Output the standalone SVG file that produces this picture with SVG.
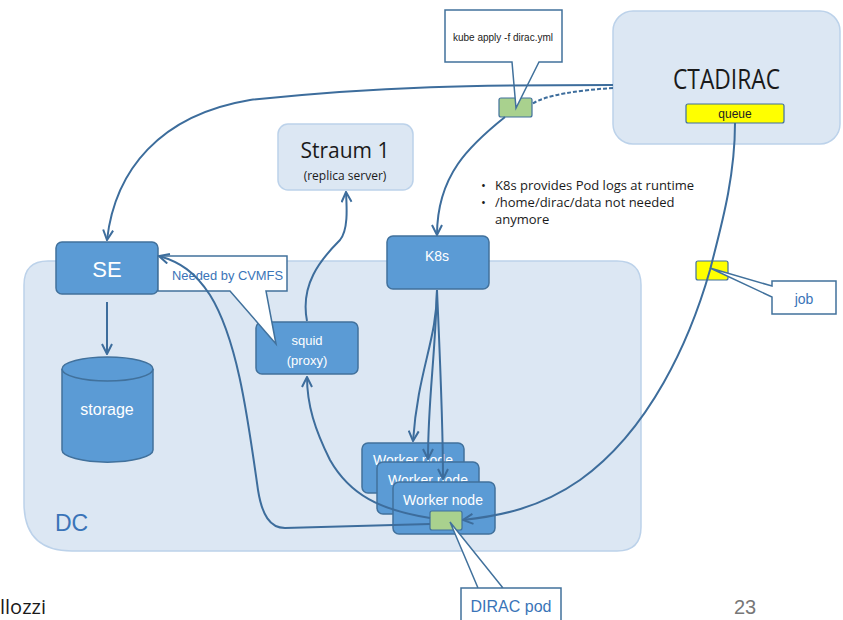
<svg xmlns="http://www.w3.org/2000/svg" width="843" height="620" viewBox="0 0 843 620">
<style>
.node{fill:#5b9bd5;stroke:#41719c;stroke-width:1.5}
.pale{fill:#dce7f3;stroke:#bcd2ea;stroke-width:1.5}
.green{fill:#a9d18e;stroke:#41719c;stroke-width:1.2}
.yellow{fill:#ffff00;stroke:#41719c;stroke-width:1.2}
.call{fill:#ffffff;stroke:#41719c;stroke-width:1.5}
.wt{font-family:"Liberation Sans",Arial,sans-serif;fill:#ffffff;text-anchor:middle}
.bt{font-family:"Liberation Sans",Arial,sans-serif;fill:#3a74b8}
.dk{font-family:"Open Sans","Noto Sans",sans-serif;fill:#1a1a1a}
.conn path{fill:none;stroke:#3d6d9c;stroke-width:2}
</style>
<defs>
<marker id="arr" viewBox="0 0 12 12" refX="11" refY="6" markerWidth="12" markerHeight="12" markerUnits="userSpaceOnUse" orient="auto">
<path d="M1,1 L11,6 L1,11" fill="none" stroke="#3d6d9c" stroke-width="2"/>
</marker>
</defs>
<rect width="843" height="620" fill="#ffffff"/>

<g id="dc">
<path class="pale" d="M24,285 Q24,261 48,261 L617,261 Q641,261 641,285 L641,527 Q641,551 617,551 L72,551 Q24,551 24,503 Z"/>
<text class="bt" x="55" y="531" font-size="23">DC</text>
</g>

<g id="ctadirac">
<rect class="pale" x="613" y="11" width="227" height="133" rx="20"/>
<text x="673" y="89" font-family="Open Sans,Noto Sans,sans-serif" font-size="27" fill="#1a1a1a" textLength="107" lengthAdjust="spacingAndGlyphs">CTADIRAC</text>
<rect class="yellow" x="686" y="104" width="98" height="19" rx="2"/>
<text x="735" y="118" font-family="Liberation Sans,Arial,sans-serif" font-size="12" fill="#222" text-anchor="middle">queue</text>
</g>

<g id="straum">
<rect class="pale" x="278" y="124" width="135" height="66" rx="10"/>
<text class="dk" x="345" y="158" font-size="21" text-anchor="middle">Straum 1</text>
<text class="dk" x="345" y="180" font-size="12" text-anchor="middle">(replica server)</text>
</g>

<g id="notes">
<text class="dk" x="481" y="190" font-size="13">•</text>
<text class="dk" x="495" y="190" font-size="13">K8s provides Pod logs at runtime</text>
<text class="dk" x="481" y="207" font-size="13">•</text>
<text class="dk" x="495" y="207" font-size="13">/home/dirac/data not needed</text>
<text class="dk" x="495" y="224" font-size="13">anymore</text>
</g>

<g id="se">
<rect class="node" x="56" y="242" width="102" height="52" rx="6"/>
<text class="wt" x="107" y="277" font-size="22">SE</text>
</g>

<g id="storage">
<path class="node" d="M62,369 L62,450 A45,12 0 0 0 153,450 L153,369"/>
<ellipse class="node" cx="107.5" cy="369" rx="45.5" ry="12"/>
<text class="wt" x="107" y="415" font-size="16">storage</text>
</g>

<g id="k8s">
<rect class="node" x="387" y="236" width="102" height="53" rx="6"/>
<text class="wt" x="437" y="261" font-size="14">K8s</text>
</g>

<g id="squid">
<rect class="node" x="256" y="322" width="102" height="52" rx="6"/>
<text class="wt" x="307" y="345" font-size="13">squid</text>
<text class="wt" x="307" y="365" font-size="13">(proxy)</text>
</g>

<g id="worker1">
<rect class="node" x="362" y="443" width="102" height="50" rx="6"/>
<text class="wt" x="413" y="465" font-size="14">Worker node</text>
</g>
<g id="worker2">
<rect class="node" x="377" y="462" width="102" height="52" rx="6"/>
<text class="wt" x="428" y="485" font-size="14">Worker node</text>
</g>
<g id="worker3">
<rect class="node" x="393" y="482" width="102" height="52" rx="6"/>
<text class="wt" x="443" y="505" font-size="14">Worker node</text>
</g>

<g id="pod">
<rect class="green" x="430" y="511" width="32" height="19" rx="2"/>
</g>

<g id="kubebox">
<rect class="green" x="499" y="98" width="33" height="19" rx="2"/>
</g>

<g id="jobbox">
<rect class="yellow" x="696" y="261" width="32" height="19" rx="2"/>
</g>

<g id="kube-callout">
<path class="call" d="M445,10 L562,10 L562,62 L539,62 L516,108 L512,62 L445,62 Z"/>
<text x="503" y="41" font-family="Liberation Sans Narrow,Liberation Sans,Arial,sans-serif" font-size="10" fill="#222" text-anchor="middle">kube apply -f dirac.yml</text>
</g>

<g id="cvmfs-callout">
<path class="call" d="M158,256 L287,256 L287,291 L266,291 L276,344 L230,291 L158,291 Z"/>
<text class="bt" x="172" y="280" font-size="13" textLength="111" lengthAdjust="spacingAndGlyphs">Needed by CVMFS</text>
</g>

<g id="job-callout">
<path class="call" d="M772,281 L836,281 L836,314 L772,314 L772,297 L710,268 L772,286 Z"/>
<text class="bt" x="804" y="304" font-size="14" text-anchor="middle">job</text>
</g>

<g id="pod-callout">
<path class="call" d="M461,588 L561,588 L561,625 L461,625 L461,588 L478,588 L450,522 L503,588 Z"/>
<text class="bt" x="511" y="612" font-size="16" text-anchor="middle">DIRAC pod</text>
</g>

<g class="conn" id="connectors">
<path d="M613,85 C480,85 380,86 250,100 C160,115 115,170 107,240" marker-end="url(#arr)"/>
<path d="M613,88 C580,90 545,95 532,104" stroke-dasharray="4,2"/>
<path d="M505,117 C470,145 437,175 437,235" marker-end="url(#arr)"/>
<path d="M107,302 L107,354" marker-end="url(#arr)"/>
<path d="M307,321 C300,285 320,260 340,240 C348,230 347,210 346,192" marker-end="url(#arr)"/>
<path d="M437,290 C437,340 418,370 413,441" marker-end="url(#arr)"/>
<path d="M437,290 C435,360 428,400 428,459" marker-end="url(#arr)"/>
<path d="M437,290 C440,360 443,420 443,479" marker-end="url(#arr)"/>
<path d="M430,518 C380,510 350,495 330,460 C315,430 307,405 307,377" marker-end="url(#arr)"/>
<path d="M430,524 L285,528 C270,528 262,515 258,490 C248,420 238,340 210,295 C195,272 180,262 159,256" marker-end="url(#arr)"/>
<path d="M735,123 C735,180 720,230 710,270 C690,340 650,430 580,480 C540,508 500,516 463,520" marker-end="url(#arr)"/>
</g>

<text x="0" y="614" font-family="Open Sans,Noto Sans,sans-serif" font-size="20" fill="#1a1a1a">llozzi</text>
<text x="745" y="614" font-family="Liberation Sans,Arial,sans-serif" font-size="20" fill="#777777" text-anchor="middle">23</text>
</svg>
